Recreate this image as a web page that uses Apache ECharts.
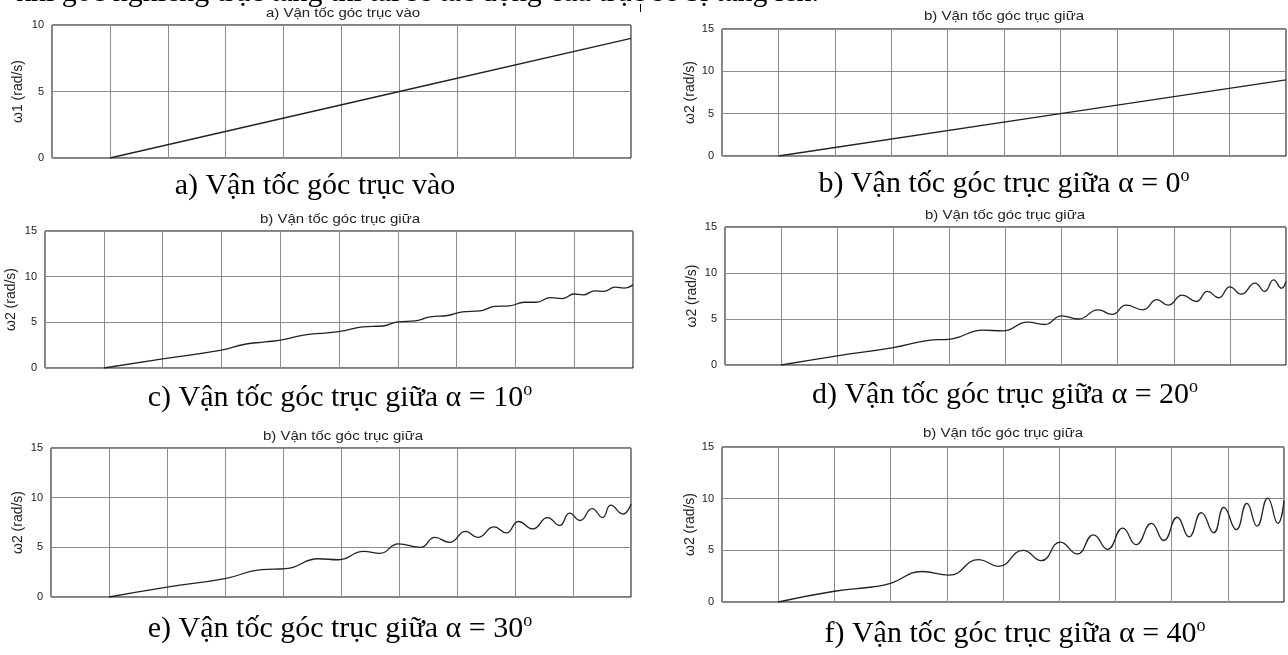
<!DOCTYPE html>
<html>
<head>
<meta charset="utf-8">
<script src="https://cdn.jsdelivr.net/npm/echarts@6/dist/echarts.min.js"></script>
<style>
html,body{margin:0;padding:0;background:#fff;}
#chart{width:1288px;height:655px;}
</style>
</head>
<body>
<div id="chart"></div>
<script>
// ---------- data ----------
const topLine = 'khi góc nghiêng trục tăng thì tải sẽ tác động của trục sẽ bị tăng lên.';
const panelTitles = [
  'a) Vận tốc góc trục vào',
  'b) Vận tốc góc trục giữa',
  'b) Vận tốc góc trục giữa',
  'b) Vận tốc góc trục giữa',
  'b) Vận tốc góc trục giữa',
  'b) Vận tốc góc trục giữa'
];
const captionTexts = [
  'a) Vận tốc góc trục vào',
  'b) Vận tốc góc trục giữa α = 0',
  'c) Vận tốc góc trục giữa α = 10',
  'd) Vận tốc góc trục giữa α = 20',
  'e) Vận tốc góc trục giữa α = 30',
  'f) Vận tốc góc trục giữa α = 40'
];
const captionSup = ['', 'o', 'o', 'o', 'o', 'o'];
const yNames = ['ω1 (rad/s)', 'ω2 (rad/s)', 'ω2 (rad/s)', 'ω2 (rad/s)', 'ω2 (rad/s)', 'ω2 (rad/s)'];
const yMax = [10, 15, 15, 15, 15, 15];
const yStep = 5;
const xMin = 0, xMax = 10, xStep = 1;

// [time division, angular velocity]
const wA = [[1,0],[6,5],[10,9]];
const wB = [[1,0],[6,5],[10,9]];
const wC = [[1,0],[2,1],[3,1.95],[3.4,2.6],[3.75,2.85],[4.05,3.1],[4.4,3.6],[4.8,3.85],[5.1,4.1],[5.4,4.5],[5.75,4.6],[6.0,5.05],[6.3,5.15],[6.55,5.6],[6.85,5.75],[7.1,6.15],[7.4,6.25],[7.65,6.75],[7.9,6.8],[8.15,7.2],[8.35,7.2],[8.6,7.7],[8.8,7.6],[9.0,8.1],[9.15,8.0],[9.35,8.45],[9.5,8.4],[9.7,8.85],[9.85,8.75],[10,9.1]];
const wD = [[1,0],[2,1.0],[3,1.9],[3.6,2.65],[4.05,2.85],[4.6,3.8],[4.95,3.7],[5.4,4.65],[5.7,4.4],[6.0,5.35],[6.3,5.0],[6.65,6.0],[6.9,5.5],[7.15,6.5],[7.45,6.0],[7.7,7.1],[7.9,6.5],[8.15,7.6],[8.4,6.9],[8.6,8.0],[8.8,7.3],[9.0,8.5],[9.2,7.7],[9.45,8.9],[9.62,8.0],[9.78,9.25],[9.92,8.35],[10,9.1]];
const wE = [[1,0],[2,1.0],[3,1.85],[3.63,2.75],[4.05,2.85],[4.61,3.85],[4.96,3.75],[5.39,4.6],[5.67,4.4],[5.99,5.35],[6.37,5.0],[6.62,6.0],[6.87,5.5],[7.15,6.6],[7.36,6.0],[7.64,7.05],[7.85,6.45],[8.06,7.6],[8.31,6.85],[8.56,8.0],[8.77,7.2],[8.94,8.45],[9.12,7.7],[9.33,8.9],[9.51,8.0],[9.65,9.25],[9.86,8.35],[10,9.35]];
const wF = [[1,0],[2,1.04],[2.67,1.45],[3,1.8],[3.56,2.95],[4.04,2.6],[4.57,4.1],[4.92,3.45],[5.36,5.0],[5.68,4.0],[6.02,5.8],[6.32,4.65],[6.61,6.5],[6.86,5.1],[7.13,7.15],[7.37,5.55],[7.64,7.6],[7.86,5.95],[8.1,8.2],[8.31,6.3],[8.53,8.65],[8.75,6.7],[8.93,9.15],[9.15,7.0],[9.34,9.55],[9.52,7.35],[9.71,10.05],[9.89,7.6],[10,9.8]];
const seriesData = [wA, wB, wC, wD, wE, wF];
const smoothFlags = [false, false, true, true, true, true];

// ---------- layout ----------
const layout = [
  {l:52,  t:25,  r:631,  b:158, tx:343,  ty:14,  cx:315,  cy:186, gap:27},
  {l:722, t:29,  r:1286, b:156, tx:1004, ty:17,  cx:1004, cy:184, gap:25},
  {l:45,  t:231, r:633,  b:368, tx:340,  ty:220, cx:340,  cy:398, gap:27},
  {l:725, t:227, r:1286, b:365, tx:1005, ty:216, cx:1005, cy:395, gap:26},
  {l:51,  t:448, r:631,  b:597, tx:343,  ty:437, cx:340,  cy:629, gap:26},
  {l:722, t:447, r:1284, b:602, tx:1003, ty:434, cx:1015, cy:634, gap:25}
];

const SANS = '"Liberation Sans", Arial, sans-serif';
const SERIF = '"Liberation Serif", "Times New Roman", serif';

const grids = [], xAxes = [], yAxes = [], series = [], graphics = [];
layout.forEach((p, i) => {
  grids.push({left:p.l, top:p.t, width:p.r - p.l, height:p.b - p.t,
    show:true, borderColor:'#000', borderWidth:1, backgroundColor:'#fff', containLabel:false});
  xAxes.push({type:'value', gridIndex:i, min:xMin, max:xMax, interval:xStep,
    axisLine:{show:false}, axisTick:{show:false}, axisLabel:{show:false},
    splitLine:{show:true, lineStyle:{color:'#8c8c8c', width:1}}});
  yAxes.push({type:'value', gridIndex:i, min:0, max:yMax[i], interval:yStep,
    name:yNames[i], nameLocation:'middle', nameGap:p.gap,
    nameTextStyle:{fontFamily:SANS, fontSize:14, color:'#222'},
    axisLine:{show:false}, axisTick:{show:false},
    axisLabel:{fontFamily:SANS, fontSize:11, color:'#222', margin:8},
    splitLine:{show:true, lineStyle:{color:'#8c8c8c', width:1}}});
  series.push({type:'line', xAxisIndex:i, yAxisIndex:i, data:seriesData[i],
    smooth:smoothFlags[i] ? 0.5 : false, showSymbol:false, symbol:'none',
    lineStyle:{color:'#222', width:1.3}, silent:true});
  graphics.push({type:'text', x:p.tx, y:p.ty, scaleX:1.2, silent:true,
    style:{text:panelTitles[i], fill:'#222', font:'12.5px ' + SANS, align:'center', verticalAlign:'middle'}});
  const sup = captionSup[i];
  graphics.push({type:'text', x:p.cx, y:p.cy, silent:true,
    style:{text:'{m|' + captionTexts[i] + '}' + (sup ? '{s|' + sup + '}' : ''),
      align:'center', verticalAlign:'middle', fill:'#000',
      rich:{
        m:{fontFamily:SERIF, fontSize:30, lineHeight:34, fill:'#000'},
        s:{fontFamily:SERIF, fontSize:18, lineHeight:20, fill:'#000', verticalAlign:'top'}
      }}});
});

graphics.push({type:'text', x:16, y:-7, silent:true,
  style:{text:topLine, fill:'#000', font:'30px ' + SERIF, align:'left', verticalAlign:'middle'}});
graphics.push({type:'line', silent:true, shape:{x1:640.5, y1:4, x2:640.5, y2:12}, style:{stroke:'#000', lineWidth:1}});

const chart = echarts.init(document.getElementById('chart'), null, {renderer:'canvas'});
chart.setOption({
  animation:false,
  backgroundColor:'#fff',
  grid:grids, xAxis:xAxes, yAxis:yAxes, series:series, graphic:graphics
});
</script>
</body>
</html>
